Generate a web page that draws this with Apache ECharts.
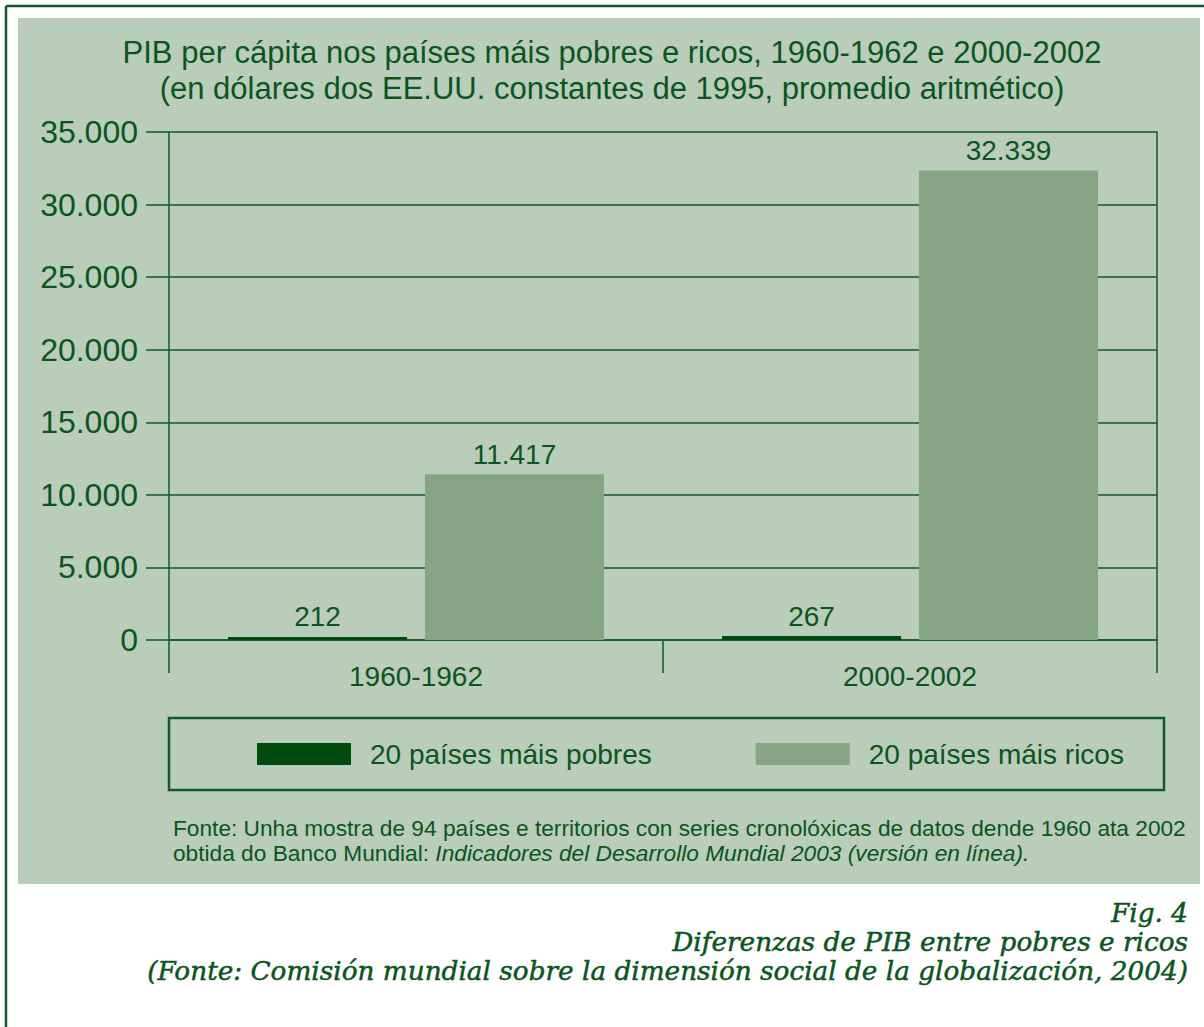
<!DOCTYPE html>
<html><head><meta charset="utf-8">
<script src="https://cdn.jsdelivr.net/npm/echarts@6/dist/echarts.min.js"></script>
<style>html,body{margin:0;padding:0;background:#fff}#c{width:1204px;height:1027px}</style>
</head><body><div id="c"></div>
<script>
// ---- data ----
const categories = ['1960-1962', '2000-2002'];
const seriesNames = ['20 países máis pobres', '20 países máis ricos'];
const poorValues = [212, 267];
const richValues = [11417, 32339];
const yMin = 0, yMax = 35000, yInterval = 5000;
const titleLines = ['PIB per cápita nos países máis pobres e ricos, 1960-1962 e 2000-2002',
                    '(en dólares dos EE.UU. constantes de 1995, promedio aritmético)'];
const sourceLine1 = 'Fonte: Unha mostra de 94 países e territorios con series cronolóxicas de datos dende 1960 ata 2002';
const sourceLine2a = 'obtida do Banco Mundial: ';
const sourceLine2b = 'Indicadores del Desarrollo Mundial 2003 (versión en línea).';
const captionLines = ['Fig. 4', 'Diferenzas de PIB entre pobres e ricos',
                      '(Fonte: Comisión mundial sobre la dimensión social de la globalización, 2004)'];

// ---- style ----
const TXT = '#0a5520', LINE = '#11592a', DARK = '#004a12', LIGHT = '#85a585', PANEL = '#bacdba';
const SANS = '"Liberation Sans", Arial, Helvetica, sans-serif';
const SERIF = '"DejaVu Serif", serif';
const fmt = v => String(v).replace(/\B(?=(\d{3})+(?!\d))/g, '.');

const chart = echarts.init(document.getElementById('c'), null, {renderer: 'svg'});
const capStyle = (t) => ({text: t, fill: TXT, stroke: TXT, lineWidth: 0.5, fontSize: 26.3, fontFamily: SERIF, fontStyle: 'italic',
  textAlign: 'right', align: 'right', textVerticalAlign: 'middle', verticalAlign: 'middle'});
const option = {
  backgroundColor: '#ffffff',
  animation: false,
  textStyle: {fontFamily: SANS, color: TXT},
  grid: {left: 169, right: 47, top: 132, bottom: 387, containLabel: false},
  xAxis: {
    type: 'category', data: categories,
    axisLine: {show: true, lineStyle: {color: LINE, width: 1.5}},
    axisTick: {show: true, length: 33, interval: 0, lineStyle: {color: LINE, width: 1.5}},
    axisLabel: {fontSize: 28, color: TXT, margin: 22, fontFamily: SANS},
    splitLine: {show: false}
  },
  yAxis: [{
    type: 'value', min: yMin, max: yMax, interval: yInterval,
    axisLine: {show: true, lineStyle: {color: LINE, width: 1.5}},
    axisTick: {show: true, length: 23, lineStyle: {color: LINE, width: 1.5}},
    axisLabel: {fontSize: 32, color: TXT, margin: 31, fontFamily: SANS, formatter: fmt},
    splitLine: {show: true, lineStyle: {color: LINE, width: 1.5}}
  }, {
    type: 'value', min: yMin, max: yMax, interval: yInterval, position: 'right',
    axisLine: {show: true, lineStyle: {color: LINE, width: 1.5}},
    axisTick: {show: false}, axisLabel: {show: false}, splitLine: {show: false}
  }],
  legend: {
    data: seriesNames, left: 257, top: 740, padding: 0,
    itemWidth: 94, itemHeight: 22, itemGap: 104, icon: 'rect',
    textStyle: {fontSize: 28, color: TXT, fontFamily: SANS, padding: [0, 0, 0, 14]}
  },
  series: [{
    name: seriesNames[0], type: 'bar', data: poorValues, barWidth: 179, barGap: '10%',
    itemStyle: {color: DARK},
    label: {show: true, position: 'top', distance: 6, fontSize: 28, color: TXT, fontFamily: SANS, formatter: p => fmt(p.value)}
  }, {
    name: seriesNames[1], type: 'bar', data: richValues, barWidth: 179, barGap: '10%',
    itemStyle: {color: LIGHT},
    label: {show: true, position: 'top', distance: 6, fontSize: 28, color: TXT, fontFamily: SANS, formatter: p => fmt(p.value)}
  }],
  graphic: [
    {type: 'rect', z: -100, shape: {x: 18, y: 18, width: 1182, height: 866}, style: {fill: PANEL}},
    {type: 'line', z: -90, shape: {x1: 6, y1: 6, x2: 1204, y2: 6}, style: {stroke: LINE, lineWidth: 2.5}},
    {type: 'line', z: -90, shape: {x1: 6, y1: 6, x2: 6, y2: 1027}, style: {stroke: LINE, lineWidth: 2.5}},
    {type: 'rect', z: 10, shape: {x: 169, y: 718, width: 995, height: 72}, style: {fill: 'none', stroke: LINE, lineWidth: 2.5}},
    {type: 'text', z: 10, x: 612, y: 52, style: {text: titleLines[0], fill: TXT, fontSize: 31, fontFamily: SANS, textAlign: 'center', align: 'center', textVerticalAlign: 'middle', verticalAlign: 'middle'}},
    {type: 'text', z: 10, x: 612, y: 88, style: {text: titleLines[1], fill: TXT, fontSize: 31, fontFamily: SANS, textAlign: 'center', align: 'center', textVerticalAlign: 'middle', verticalAlign: 'middle'}},
    {type: 'text', z: 10, x: 173, y: 828, style: {text: sourceLine1, fill: TXT, fontSize: 22.7, fontFamily: SANS, textAlign: 'left', align: 'left', textVerticalAlign: 'middle', verticalAlign: 'middle'}},
    {type: 'text', z: 10, x: 173, y: 853, style: {
      text: '{n|' + sourceLine2a + '}{i|' + sourceLine2b + '}', fill: TXT, fontSize: 22.7, fontFamily: SANS,
      textAlign: 'left', align: 'left', textVerticalAlign: 'middle', verticalAlign: 'middle',
      rich: {n: {fontSize: 22.7, fontFamily: SANS, fill: TXT, color: TXT}, i: {fontSize: 22.7, fontFamily: SANS, fontStyle: 'italic', fill: TXT, color: TXT}}}},
    {type: 'text', z: 10, x: 1188, y: 913, style: capStyle(captionLines[0])},
    {type: 'text', z: 10, x: 1188, y: 942, style: capStyle(captionLines[1])},
    {type: 'text', z: 10, x: 1188, y: 971, style: capStyle(captionLines[2])}
  ]
};
chart.setOption(option);
</script></body></html>
